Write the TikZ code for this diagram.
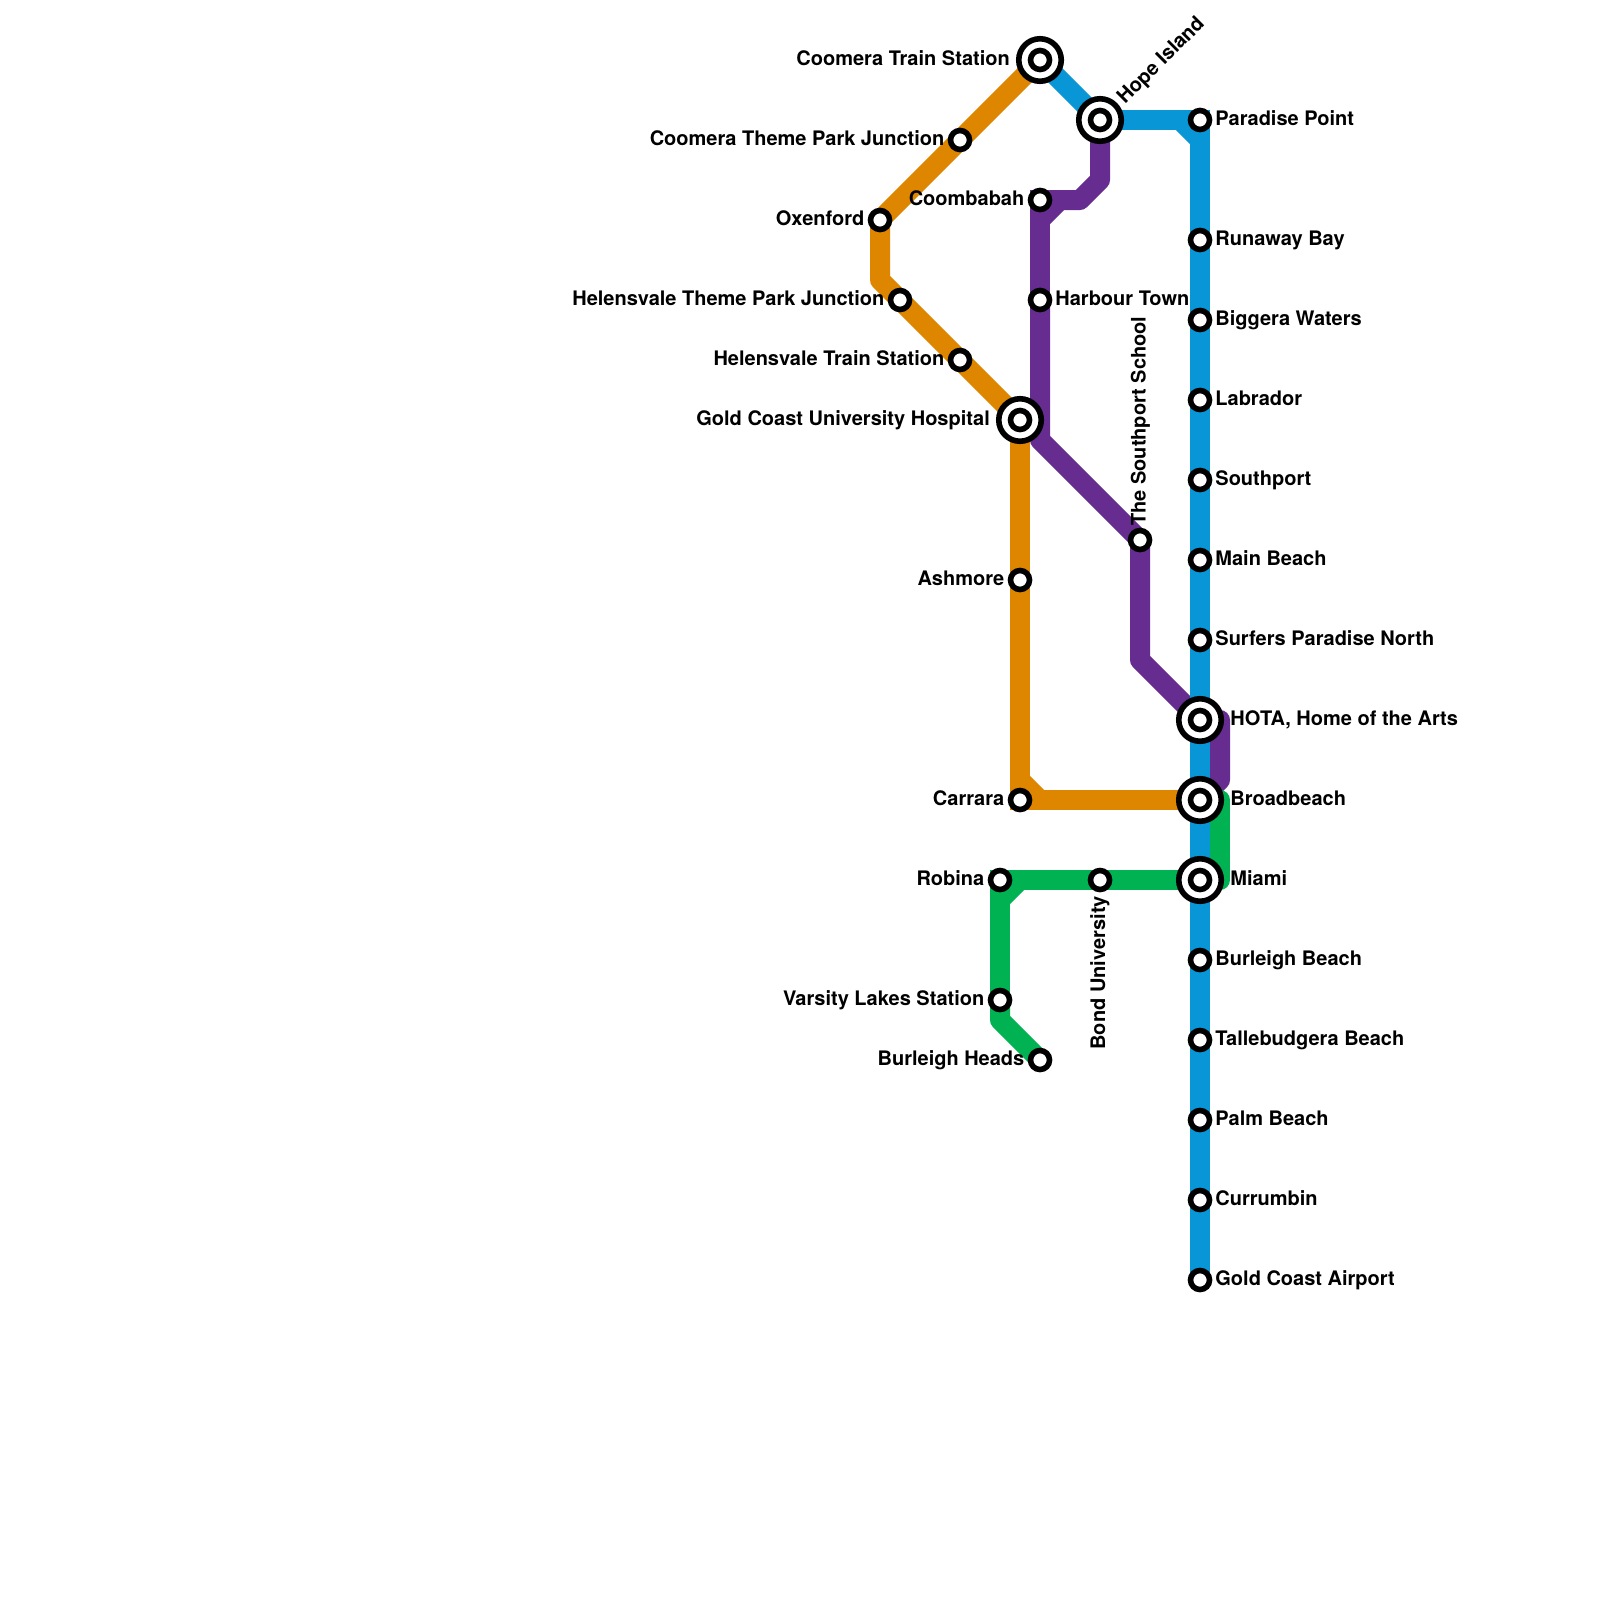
\documentclass[tikz,border=0pt]{standalone}
\usepackage{fontspec}
\setmainfont{TeX Gyre Heros}
\usetikzlibrary{backgrounds}
\definecolor{lnblue}{HTML}{0896D7}
\definecolor{lnorange}{HTML}{DF8600}
\definecolor{lnpurple}{HTML}{662C90}
\definecolor{lngreen}{HTML}{00B251}
\tikzset{
  metro/.style={line width=20pt,line cap=butt,line join=round},
  square/.style={line join=miter},
  stn/.style={circle,draw=black,fill=white,line width=5.6pt,outer sep=0pt,minimum size=19pt,inner sep=0pt},
  xchg/.style={circle,draw=black,fill=white,line width=5.6pt,outer sep=0pt,minimum size=42.5pt,inner sep=0pt},
  lbl/.style={inner sep=0pt,text height=14.3pt,text depth=0pt,font=\fontsize{20}{24}\selectfont\bfseries,text=black},
  lblL/.style={lbl,anchor=east,xshift=-15.5pt,yshift=1.5pt},
  lblR/.style={lbl,anchor=west,xshift=15.2pt,yshift=1.5pt},
  xlblL/.style={lbl,anchor=east,xshift=-30pt,yshift=1.5pt},
  xlblR/.style={lbl,anchor=west,xshift=30.2pt,yshift=1.5pt},
}
\begin{document}
\begin{tikzpicture}[x=1pt,y=-1pt]
\useasboundingbox (0,0) rectangle (1600,1600);
% interchanges
\node[xchg] (coomeraO) at (1040,60) {}; \node[stn] (coomera) at (1040,60) {};
\node[xchg] (hopeO) at (1100,120) {}; \node[stn] (hope) at (1100,120) {};
\node[xchg] (gcuhO) at (1020,420) {}; \node[stn] (gcuh) at (1020,420) {};
\node[xchg] (hotaO) at (1200,720) {}; \node[stn] (hota) at (1200,720) {};
\node[xchg] (broadO) at (1200,800) {}; \node[stn] (broad) at (1200,800) {};
\node[xchg] (miamiO) at (1200,880) {}; \node[stn] (miami) at (1200,880) {};
% plain stations
\node[stn] (junction) at (960,140) {};
\node[stn] (oxenford) at (880,220) {};
\node[stn] (hvpark) at (900,300) {};
\node[stn] (hvtrain) at (960,360) {};
\node[stn] (ashmore) at (1020,580) {};
\node[stn] (carrara) at (1020,800) {};
\node[stn] (coombabah) at (1040,200) {};
\node[stn] (harbour) at (1040,300) {};
\node[stn] (school) at (1140,540) {};
\node[stn] (robina) at (1000,880) {};
\node[stn] (bond) at (1100,880) {};
\node[stn] (varsity) at (1000,1000) {};
\node[stn] (heads) at (1040,1060) {};
\node[stn] (paradise) at (1200,120) {};
\node[stn] (runaway) at (1200,240) {};
\node[stn] (biggera) at (1200,320) {};
\node[stn] (labrador) at (1200,400) {};
\node[stn] (southport) at (1200,480) {};
\node[stn] (mainbeach) at (1200,560) {};
\node[stn] (surfers) at (1200,640) {};
\node[stn] (burleigh) at (1200,960) {};
\node[stn] (tallebudgera) at (1200,1040) {};
\node[stn] (palm) at (1200,1120) {};
\node[stn] (currumbin) at (1200,1200) {};
\node[stn] (airport) at (1200,1280) {};
% bend points
\coordinate (oA) at (880,280);
\coordinate (oB) at (1020,780);
\coordinate (oC) at (1040,800);
\coordinate (pA) at (1100,180);
\coordinate (pB) at (1080,200);
\coordinate (pC) at (1060,200);
\coordinate (pD) at (1040,220);
\coordinate (pE) at (1040,440);
\coordinate (pF) at (1140,660);
\coordinate (pG) at (1220,720);
\coordinate (pH) at (1220,780);
\coordinate (gA) at (1220,800);
\coordinate (gB) at (1220,880);
\coordinate (gC) at (1020,880);
\coordinate (gD) at (1000,900);
\coordinate (gE) at (1000,1020);
\coordinate (bA) at (1180,120);
\coordinate (bB) at (1200,140);
% lines
\begin{scope}[on background layer]
\draw[metro,lnorange] (coomera.center) -- (oxenford.center) -- (oA) -- (gcuh.center);
\draw[metro,lnorange,square] (gcuh.center) -- (carrara.center) -- (broad.center);
\draw[metro,lnorange] (oB) -- (oC);
\draw[metro,lnpurple] (hope.center) -- (pA) -- (pB) -- (pC);
\draw[metro,lnpurple,square] (pB) -- (coombabah.center) -- (pE);
\draw[metro,lnpurple] (pC) -- (pD);
\draw[metro,lnpurple] (harbour.center) -- (pE) -- (school.center) -- (pF) -- (hota.center) -- (pG) -- (pH) -- (broad.center);
\draw[metro,lngreen] (broad.center) -- (gA) -- (gB) -- (miami.center);
\draw[metro,lngreen,square] (miami.center) -- (robina.center) -- (gE);
\draw[metro,lngreen] (gC) -- (gD);
\draw[metro,lngreen] (varsity.center) -- (gE) -- (heads.center);
\draw[metro,lnblue,line join=round] (coomera.center) -- (hope.center);
\draw[metro,lnblue,square] (hope.center) -- (paradise.center) -- (airport.center);
\draw[metro,lnblue] (bA) -- (bB);
\end{scope}
% labels
\node[xlblL] (tCoomera) at (coomera) {Coomera Train Station};
\node[lblL] (tJunction) at (junction) {Coomera Theme Park Junction};
\node[lblL] (tOxenford) at (oxenford) {Oxenford};
\node[lblL] (tHvpark) at (hvpark) {Helensvale Theme Park Junction};
\node[lblL] (tHvtrain) at (hvtrain) {Helensvale Train Station};
\node[xlblL] (tGcuh) at (gcuh) {Gold Coast University Hospital};
\node[lblL] (tAshmore) at (ashmore) {Ashmore};
\node[lblL] (tCarrara) at (carrara) {Carrara};
\node[lblL] (tCoombabah) at (coombabah) {Coombabah};
\node[lblR] (tHarbour) at (harbour) {Harbour Town};
\node[lblL] (tRobina) at (robina) {Robina};
\node[lblL] (tVarsity) at (varsity) {Varsity Lakes Station};
\node[lblL] (tHeads) at (heads) {Burleigh Heads};
\node[lblR] (tParadise) at (paradise) {Paradise Point};
\node[lblR] (tRunaway) at (runaway) {Runaway Bay};
\node[lblR] (tBiggera) at (biggera) {Biggera Waters};
\node[lblR] (tLabrador) at (labrador) {Labrador};
\node[lblR] (tSouthport) at (southport) {Southport};
\node[lblR] (tMain) at (mainbeach) {Main Beach};
\node[lblR] (tSurfers) at (surfers) {Surfers Paradise North};
\node[xlblR] (tHota) at (hota) {HOTA, Home of the Arts};
\node[xlblR] (tBroad) at (broad) {Broadbeach};
\node[xlblR] (tMiami) at (miami) {Miami};
\node[lblR] (tBurleigh) at (burleigh) {Burleigh Beach};
\node[lblR] (tTalle) at (tallebudgera) {Tallebudgera Beach};
\node[lblR] (tPalm) at (palm) {Palm Beach};
\node[lblR] (tCurrumbin) at (currumbin) {Currumbin};
\node[lblR] (tAirport) at (airport) {Gold Coast Airport};
\node[lbl,anchor=west,rotate=45] (tHope) at (1120,100) {Hope Island};
\node[lbl,anchor=west,rotate=90] (tSchool) at (1138.5,526) {The Southport School};
\node[lbl,anchor=east,rotate=90] (tBond) at (1098,896) {Bond University};
\end{tikzpicture}
\end{document}
